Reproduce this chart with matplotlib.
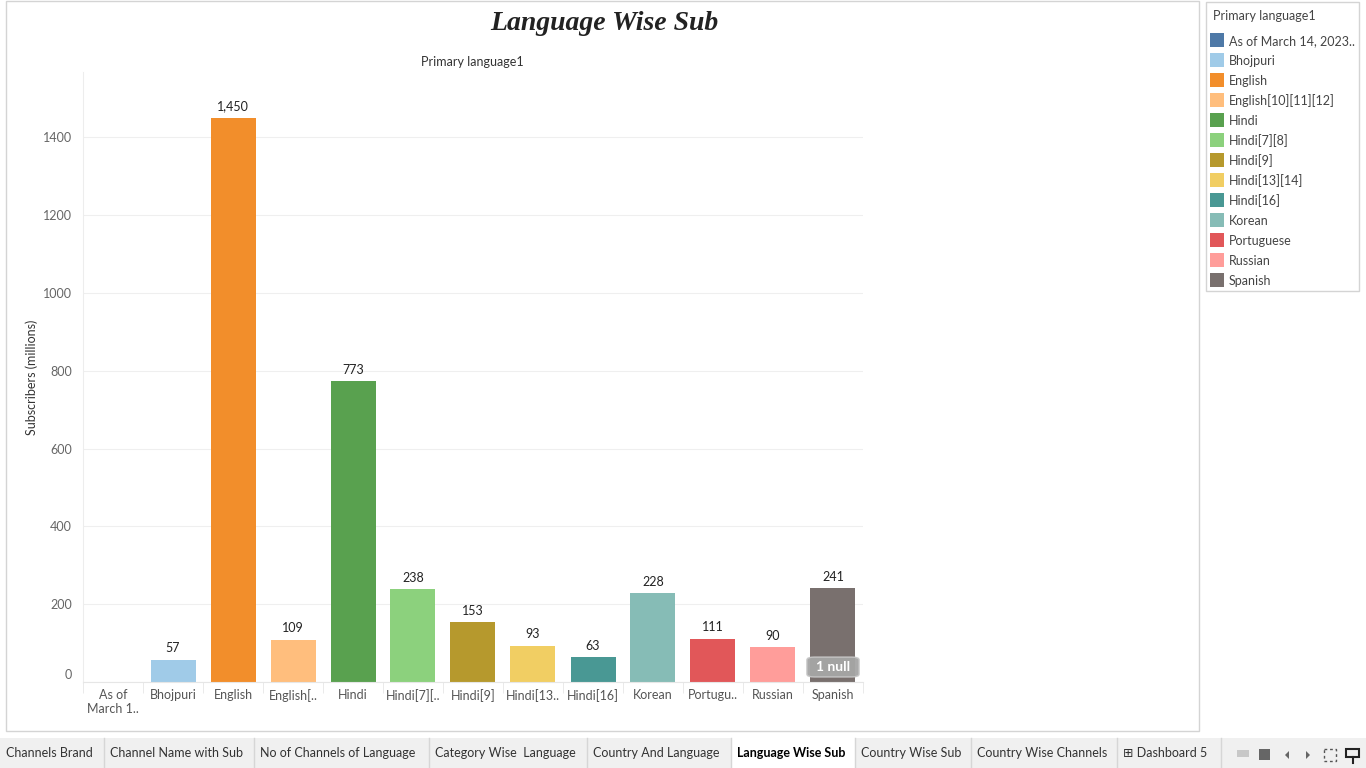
import numpy as np
import matplotlib
matplotlib.use('Agg')
from matplotlib import pyplot as plt
from matplotlib.patches import Rectangle, FancyBboxPatch, Polygon
import matplotlib.transforms as mtransforms

plt.rcParams['font.family'] = ['Lato', 'DejaVu Sans']

# data
languages = ['As of March 14, 2023..', 'Bhojpuri', 'English', 'English[10][11][12]',
             'Hindi', 'Hindi[7][8]', 'Hindi[9]', 'Hindi[13][14]', 'Hindi[16]',
             'Korean', 'Portuguese', 'Russian', 'Spanish']
tick_labels = ['As of\nMarch 1..', 'Bhojpuri', 'English', 'English[..', 'Hindi',
               'Hindi[7][..', 'Hindi[9]', 'Hindi[13..', 'Hindi[16]', 'Korean',
               'Portugu..', 'Russian', 'Spanish']
subscribers = [np.nan, 57, 1450, 109, 773, 238, 153, 93, 63, 228, 111, 90, 241]
colors = ['#4E79A7', '#A0CBE8', '#F28E2B', '#FFBE7D', '#59A14F', '#8CD17D', '#B6992D',
          '#F1CE63', '#499894', '#86BCB6', '#E15759', '#FF9D9A', '#79706E']
tabs = ['Channels Brand', 'Channel Name with Sub', 'No of Channels of Language',
        'Category Wise  Language', 'Country And Language', 'Language Wise Sub',
        'Country Wise Sub', 'Country Wise Channels', '\u229e Dashboard 5']
tab_edges = [0, 104, 254, 429, 587, 731, 855, 971, 1117, 1221]
active_tab = 'Language Wise Sub'

W, H = 1366, 768
fig = plt.figure(figsize=(W / 100, H / 100), dpi=100)

# background layer in pixel coords
bg = fig.add_axes([0, 0, 1, 1], zorder=0)
bg.set_xlim(0, W)
bg.set_ylim(H, 0)
bg.axis('off')
bg.add_patch(Rectangle((6, 1), 1193, 730, fill=False, ec='#D4D4D4', lw=1))
bg.text(604, 24, 'Language Wise Sub', ha='center', va='center', fontsize=20,
        family='Liberation Serif', style='italic', weight='bold', color='#222222')
bg.text(472, 62, 'Primary language1', ha='center', va='center', fontsize=9, color='#333333')
bg.text(32, 377, 'Subscribers (millions)', ha='center', va='center', rotation=90,
        fontsize=9, color='#333333')

# legend
bg.add_patch(Rectangle((1206, 2), 153, 289, fill=False, ec='#D4D4D4', lw=1))
bg.text(1213, 16, 'Primary language1', ha='left', va='center', fontsize=9, color='#444444')
for i, (name, c) in enumerate(zip(languages, colors)):
    y = 40 + i * 20
    bg.add_patch(Rectangle((1210, y - 7), 14, 14, fc=c, ec='none'))
    bg.text(1229, y + 1, name, ha='left', va='center', fontsize=9, color='#444444')

# tab bar
bg.add_patch(Rectangle((0, 738), W, 30, fc='#F0F0F0', ec='none'))
for name, x0, x1 in zip(tabs, tab_edges[:-1], tab_edges[1:]):
    if name == active_tab:
        bg.add_patch(Rectangle((x0, 736), x1 - x0, 32, fc='white', ec='none'))
    bg.plot([x1, x1], [738, 768], color='#D6D6D6', lw=1)
    bg.text(x0 + 6, 753, name, ha='left', va='center', fontsize=9,
            color='#000000' if name == active_tab else '#333333',
            weight='bold' if name == active_tab else 'normal')
bg.add_patch(Rectangle((1237, 750), 12, 7, fc='#C8C8C8', ec='none'))
bg.add_patch(Rectangle((1259, 749), 11, 11, fc='#666666', ec='none'))
bg.add_patch(Polygon([[1289, 751], [1289, 759], [1285, 755]], fc='#666666', ec='none'))
bg.add_patch(Polygon([[1306, 751], [1306, 759], [1310, 755]], fc='#666666', ec='none'))
bg.add_patch(Rectangle((1324, 749), 12, 12, fill=False, ec='#555555', lw=1, ls=(0, (2, 2))))
bg.add_patch(Rectangle((1346, 749), 13, 8, fill=False, ec='#222222', lw=1.5))
bg.plot([1352.5, 1352.5], [757, 763], color='#222222', lw=1.5)

# chart
ax = fig.add_axes([83 / W, 1 - 682 / H, 780 / W, 610 / H], zorder=1)
ax.patch.set_alpha(0)
x = np.arange(len(languages))
vals = np.array(subscribers, dtype=float)
ok = np.isfinite(vals)
ax.bar(x[ok], vals[ok], width=0.75, color=np.array(colors)[ok], zorder=2)
for xi, v in zip(x[ok], vals[ok]):
    ax.text(xi, v + 14, f'{int(v):,}', ha='center', va='bottom', fontsize=9, color='#222222')

ax.set_xlim(-0.5, len(languages) - 0.5)
ax.set_ylim(0, 1568)
ax.set_yticks(np.arange(0, 1401, 200))
ax.set_xticks(x)
ax.set_xticklabels(tick_labels)
ax.set_xticks(np.arange(-0.5, len(languages), 1), minor=True)
ax.tick_params(axis='x', which='major', length=0, pad=5, labelsize=9, labelcolor='#555555')
ax.tick_params(axis='x', which='minor', length=8, color='#E6E6E6')
ax.tick_params(axis='y', length=0, pad=8, labelsize=9, labelcolor='#666666')
ax.grid(axis='y', color='#EFEFEF', lw=0.8, zorder=0)
for s in ['top', 'right']:
    ax.spines[s].set_visible(False)
ax.spines['left'].set_color('#EDEDED')
ax.spines['bottom'].set_color('#E6E6E6')
# tableau keeps the 0 label just above the baseline
zero_lbl = ax.get_yticklabels()[0]
zero_lbl.set_transform(zero_lbl.get_transform() +
                       mtransforms.ScaledTranslation(0, 8 / 100, fig.dpi_scale_trans))

# null indicator on last bar
ax.add_patch(FancyBboxPatch((11.565, 13), 0.87, 51, boxstyle='round,pad=0,rounding_size=0.12',
                            mutation_aspect=60, fc='#A6A6A6', ec='#C8C8C8', lw=1,
                            alpha=0.95, zorder=3))
ax.text(12, 39, '1 null', ha='center', va='center', fontsize=10, color='white',
        weight='bold', zorder=4)

fig.savefig('out.png', dpi=100)
